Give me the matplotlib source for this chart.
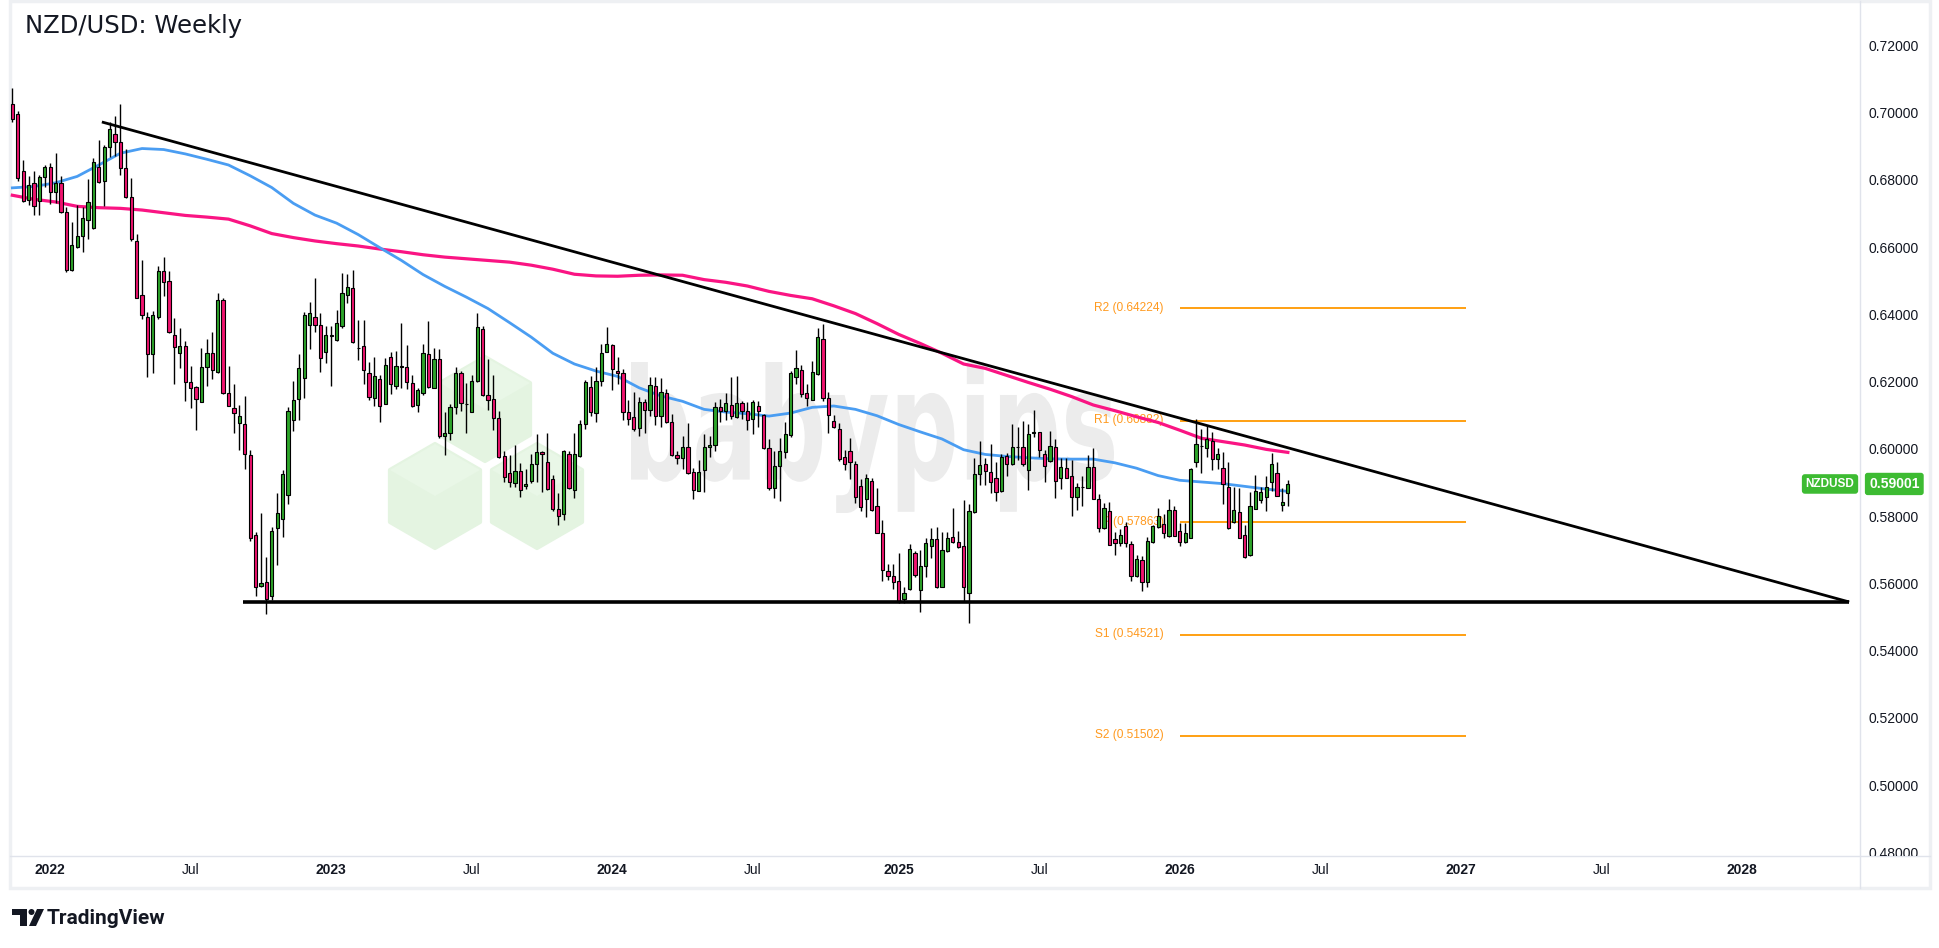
import matplotlib
matplotlib.use("Agg")
import matplotlib.pyplot as plt
import matplotlib.dates as mdates
import matplotlib.transforms as mtransforms
from matplotlib.patches import Polygon, PathPatch, Rectangle, Circle
from matplotlib.textpath import TextPath
from matplotlib.font_manager import FontProperties
import numpy as np
import pandas as pd

# ---------------------------------------------------------------- data
title = "NZD/USD: Weekly"
symbol = "NZDUSD"
last_price = 0.59001
first_week = "2021-11-15"

opens = [0.7030, 0.7000, 0.6830, 0.6744, 0.6794, 0.6741, 0.6813, 0.6842, 0.6769, 0.6795,
         0.6708, 0.6536, 0.6606, 0.6638, 0.6685, 0.6662, 0.6843, 0.6800, 0.6902, 0.6941,
         0.6916, 0.6841, 0.6754, 0.6622, 0.6461, 0.6397, 0.6286, 0.6398, 0.6533, 0.6503,
         0.6343, 0.6291, 0.6310, 0.6203, 0.6188, 0.6145, 0.6247, 0.6289, 0.6233, 0.6446,
         0.6172, 0.6127, 0.6080, 0.6079, 0.5986, 0.5748, 0.5597, 0.5608, 0.5568, 0.5768,
         0.5796, 0.5866, 0.6089, 0.6153, 0.6215, 0.6372, 0.6397, 0.6373, 0.6292, 0.6340,
         0.6327, 0.6371, 0.6461, 0.6484, 0.6306, 0.6310, 0.6230, 0.6155, 0.6213, 0.6139,
         0.6279, 0.6193, 0.6248, 0.6249, 0.6201, 0.6136, 0.6170, 0.6286, 0.6187, 0.6272,
         0.6044, 0.6053, 0.6129, 0.6231, 0.6137, 0.6114, 0.6207, 0.6361, 0.6164, 0.6152,
         0.6097, 0.5984, 0.5933, 0.5904, 0.5939, 0.5895, 0.5910, 0.5960, 0.5994, 0.5965,
         0.5915, 0.5825, 0.5810, 0.5989, 0.5882, 0.5984, 0.6077, 0.6188, 0.6111, 0.6206,
         0.6292, 0.6313, 0.6236, 0.6231, 0.6114, 0.6099, 0.6067, 0.6144, 0.6119, 0.6191,
         0.6103, 0.6170, 0.6084, 0.5986, 0.5976, 0.6010, 0.5936, 0.5880, 0.5942, 0.6010,
         0.6016, 0.6130, 0.6116, 0.6135, 0.6098, 0.6140, 0.6116, 0.6092, 0.6132, 0.6105,
         0.6008, 0.5889, 0.5954, 0.5994, 0.6045, 0.6218, 0.6239, 0.6170, 0.6151, 0.6228,
         0.6332, 0.6155, 0.6087, 0.6063, 0.5979, 0.5997, 0.5958, 0.5895, 0.5854, 0.5909,
         0.5834, 0.5755, 0.5641, 0.5627, 0.5610, 0.5559, 0.5588, 0.5694, 0.5585, 0.5655,
         0.5715, 0.5737, 0.5595, 0.5700, 0.5742, 0.5726, 0.5715, 0.5575, 0.5816, 0.5930,
         0.5958, 0.5937, 0.5917, 0.5880, 0.5983, 0.5958, 0.6009, 0.6010, 0.5941, 0.6052,
         0.6054, 0.5989, 0.5967, 0.6011, 0.5917, 0.5949, 0.5925, 0.5861, 0.5890, 0.5889,
         0.5952, 0.5854, 0.5769, 0.5820, 0.5737, 0.5723, 0.5774, 0.5721, 0.5625, 0.5673,
         0.5609, 0.5726, 0.5772, 0.5781, 0.5744, 0.5824, 0.5760, 0.5726, 0.5739, 0.5965,
         0.6012, 0.6008, 0.6029, 0.5973, 0.5949, 0.5891, 0.5788, 0.5816, 0.5747, 0.5689,
         0.5827, 0.5851, 0.5862, 0.5907, 0.5933, 0.5838, 0.5873]
highs = [0.7079, 0.7009, 0.6863, 0.6817, 0.6830, 0.6820, 0.6850, 0.6854, 0.6886, 0.6815,
         0.6723, 0.6679, 0.6730, 0.6725, 0.6808, 0.6869, 0.6924, 0.6909, 0.6977, 0.6995,
         0.7030, 0.6897, 0.6810, 0.6644, 0.6567, 0.6411, 0.6414, 0.6550, 0.6575, 0.6534,
         0.6393, 0.6364, 0.6325, 0.6251, 0.6193, 0.6305, 0.6330, 0.6351, 0.6469, 0.6454,
         0.6252, 0.6196, 0.6135, 0.6162, 0.6000, 0.5757, 0.5814, 0.5684, 0.5772, 0.5873,
         0.5942, 0.6130, 0.6206, 0.6288, 0.6411, 0.6441, 0.6514, 0.6409, 0.6369, 0.6371,
         0.6417, 0.6527, 0.6525, 0.6536, 0.6388, 0.6388, 0.6262, 0.6279, 0.6223, 0.6274,
         0.6292, 0.6296, 0.6380, 0.6313, 0.6224, 0.6186, 0.6316, 0.6385, 0.6306, 0.6303,
         0.6113, 0.6138, 0.6249, 0.6236, 0.6199, 0.6224, 0.6410, 0.6369, 0.6273, 0.6224,
         0.6116, 0.5997, 0.5986, 0.6016, 0.5962, 0.5946, 0.5989, 0.6048, 0.5997, 0.6053,
         0.5928, 0.5873, 0.6002, 0.5997, 0.6053, 0.6089, 0.6210, 0.6222, 0.6247, 0.6316,
         0.6367, 0.6316, 0.6277, 0.6243, 0.6151, 0.6174, 0.6160, 0.6152, 0.6218, 0.6217,
         0.6215, 0.6182, 0.6109, 0.5997, 0.6042, 0.6082, 0.5949, 0.5970, 0.6050, 0.6044,
         0.6143, 0.6153, 0.6170, 0.6219, 0.6221, 0.6148, 0.6143, 0.6151, 0.6148, 0.6109,
         0.6034, 0.5997, 0.6036, 0.6084, 0.6236, 0.6298, 0.6254, 0.6196, 0.6266, 0.6363,
         0.6376, 0.6173, 0.6104, 0.6082, 0.6002, 0.6036, 0.5969, 0.5915, 0.5930, 0.5917,
         0.5888, 0.5793, 0.5662, 0.5662, 0.5694, 0.5593, 0.5721, 0.5700, 0.5705, 0.5739,
         0.5769, 0.5772, 0.5756, 0.5758, 0.5830, 0.5761, 0.5851, 0.5841, 0.5978, 0.6027,
         0.5976, 0.6020, 0.5965, 0.5989, 0.5992, 0.6079, 0.6069, 0.6087, 0.6077, 0.6119,
         0.6055, 0.6002, 0.6058, 0.6034, 0.5978, 0.5978, 0.5970, 0.5904, 0.5923, 0.5986,
         0.6008, 0.5869, 0.5843, 0.5845, 0.5758, 0.5765, 0.5788, 0.5729, 0.5689, 0.5687,
         0.5742, 0.5779, 0.5830, 0.5811, 0.5856, 0.5834, 0.5784, 0.5784, 0.5949, 0.6093,
         0.6063, 0.6073, 0.6055, 0.6008, 0.5994, 0.5965, 0.5891, 0.5888, 0.5779, 0.5875,
         0.5928, 0.5891, 0.5925, 0.5992, 0.5965, 0.5888, 0.5912]
lows = [0.6978, 0.6802, 0.6739, 0.6730, 0.6701, 0.6701, 0.6783, 0.6733, 0.6735, 0.6707,
        0.6530, 0.6535, 0.6602, 0.6590, 0.6630, 0.6660, 0.6794, 0.6728, 0.6874, 0.6877,
        0.6820, 0.6751, 0.6624, 0.6452, 0.6392, 0.6218, 0.6229, 0.6390, 0.6460, 0.6348,
        0.6196, 0.6244, 0.6148, 0.6125, 0.6062, 0.6144, 0.6191, 0.6212, 0.6231, 0.6167,
        0.6133, 0.6053, 0.6000, 0.5944, 0.5731, 0.5567, 0.5595, 0.5514, 0.5556, 0.5660,
        0.5743, 0.5841, 0.6059, 0.6089, 0.6156, 0.6303, 0.6352, 0.6233, 0.6259, 0.6193,
        0.6326, 0.6364, 0.6438, 0.6320, 0.6268, 0.6196, 0.6151, 0.6133, 0.6085, 0.6137,
        0.6169, 0.6182, 0.6186, 0.6184, 0.6128, 0.6113, 0.6164, 0.6186, 0.6186, 0.6036,
        0.5987, 0.6032, 0.6109, 0.6118, 0.6053, 0.6113, 0.6203, 0.6163, 0.6121, 0.6062,
        0.5977, 0.5905, 0.5891, 0.5890, 0.5862, 0.5885, 0.5904, 0.5907, 0.5875, 0.5882,
        0.5820, 0.5777, 0.5793, 0.5885, 0.5857, 0.5981, 0.6063, 0.6103, 0.6085, 0.6192,
        0.6292, 0.6181, 0.6198, 0.6089, 0.6076, 0.6059, 0.6042, 0.6053, 0.6103, 0.6076,
        0.6071, 0.6080, 0.5983, 0.5958, 0.5944, 0.5930, 0.5854, 0.5880, 0.5877, 0.5981,
        0.5997, 0.6084, 0.6089, 0.6093, 0.6096, 0.6093, 0.6060, 0.6050, 0.6071, 0.6005,
        0.5882, 0.5859, 0.5850, 0.5976, 0.6040, 0.6197, 0.6159, 0.6133, 0.6151, 0.6224,
        0.6147, 0.6053, 0.6066, 0.5969, 0.5941, 0.5915, 0.5843, 0.5820, 0.5801, 0.5820,
        0.5753, 0.5612, 0.5614, 0.5588, 0.5545, 0.5545, 0.5586, 0.5623, 0.5520, 0.5623,
        0.5681, 0.5591, 0.5593, 0.5697, 0.5724, 0.5710, 0.5551, 0.5487, 0.5814, 0.5898,
        0.5896, 0.5872, 0.5848, 0.5875, 0.5925, 0.5957, 0.5970, 0.5955, 0.5883, 0.6040,
        0.5979, 0.5907, 0.5965, 0.5859, 0.5885, 0.5917, 0.5804, 0.5822, 0.5836, 0.5888,
        0.5854, 0.5758, 0.5765, 0.5718, 0.5689, 0.5715, 0.5712, 0.5611, 0.5623, 0.5581,
        0.5595, 0.5724, 0.5770, 0.5739, 0.5742, 0.5744, 0.5715, 0.5724, 0.5739, 0.5951,
        0.5933, 0.5981, 0.5941, 0.5944, 0.5840, 0.5767, 0.5784, 0.5740, 0.5681, 0.5686,
        0.5825, 0.5843, 0.5819, 0.5880, 0.5864, 0.5819, 0.5834]
closes = [0.6985, 0.6809, 0.6741, 0.6788, 0.6727, 0.6812, 0.6842, 0.6769, 0.6795, 0.6709,
          0.6536, 0.6610, 0.6638, 0.6691, 0.6738, 0.6857, 0.6799, 0.6902, 0.6955, 0.6916,
          0.6841, 0.6754, 0.6630, 0.6453, 0.6403, 0.6286, 0.6402, 0.6533, 0.6502, 0.6351,
          0.6309, 0.6310, 0.6202, 0.6187, 0.6154, 0.6248, 0.6289, 0.6238, 0.6446, 0.6171,
          0.6133, 0.6111, 0.6103, 0.5989, 0.5738, 0.5595, 0.5604, 0.5559, 0.5759, 0.5814,
          0.5930, 0.6116, 0.6149, 0.6246, 0.6403, 0.6408, 0.6374, 0.6274, 0.6343, 0.6342,
          0.6378, 0.6468, 0.6486, 0.6321, 0.6304, 0.6238, 0.6160, 0.6221, 0.6131, 0.6255,
          0.6196, 0.6252, 0.6250, 0.6204, 0.6132, 0.6180, 0.6291, 0.6188, 0.6271, 0.6042,
          0.6053, 0.6129, 0.6231, 0.6140, 0.6139, 0.6206, 0.6367, 0.6164, 0.6151, 0.6096,
          0.5981, 0.5920, 0.5905, 0.5939, 0.5882, 0.5900, 0.5960, 0.5994, 0.5989, 0.5884,
          0.5827, 0.5804, 0.5997, 0.5888, 0.5989, 0.6078, 0.6204, 0.6114, 0.6206, 0.6291,
          0.6316, 0.6241, 0.6229, 0.6114, 0.6092, 0.6063, 0.6144, 0.6119, 0.6194, 0.6101,
          0.6175, 0.6084, 0.5985, 0.5976, 0.6010, 0.5933, 0.5882, 0.5936, 0.6010, 0.6015,
          0.6130, 0.6116, 0.6140, 0.6101, 0.6140, 0.6116, 0.6089, 0.6143, 0.6116, 0.6008,
          0.5888, 0.5954, 0.5997, 0.6048, 0.6231, 0.6246, 0.6169, 0.6155, 0.6233, 0.6337,
          0.6155, 0.6105, 0.6069, 0.5973, 0.5960, 0.5965, 0.5861, 0.5832, 0.5917, 0.5824,
          0.5755, 0.5644, 0.5625, 0.5607, 0.5549, 0.5575, 0.5707, 0.5628, 0.5655, 0.5724,
          0.5735, 0.5595, 0.5705, 0.5740, 0.5726, 0.5712, 0.5593, 0.5819, 0.5930, 0.5957,
          0.5939, 0.5907, 0.5877, 0.5981, 0.5958, 0.6010, 0.6011, 0.5958, 0.6050, 0.6054,
          0.6002, 0.5954, 0.6013, 0.5910, 0.5951, 0.5919, 0.5861, 0.5891, 0.5892, 0.5952,
          0.5856, 0.5769, 0.5829, 0.5719, 0.5724, 0.5747, 0.5723, 0.5625, 0.5678, 0.5609,
          0.5729, 0.5774, 0.5804, 0.5755, 0.5824, 0.5745, 0.5728, 0.5753, 0.5944, 0.6018,
          0.6013, 0.6034, 0.5973, 0.5990, 0.5899, 0.5769, 0.5824, 0.5740, 0.5684, 0.5834,
          0.5878, 0.5875, 0.5891, 0.5960, 0.5864, 0.5846, 0.5900]

# moving averages, read every 4th week
ma_step = 4
ma_blue = [0.6781, 0.6785, 0.6796, 0.6815, 0.6849, 0.6884, 0.6898, 0.6895, 0.6882, 0.6866,
           0.6849, 0.6817, 0.6782, 0.6735, 0.6700, 0.6676, 0.6642, 0.6603, 0.6565, 0.6523,
           0.6488, 0.6456, 0.6422, 0.6380, 0.6337, 0.6289, 0.6257, 0.6236, 0.6220, 0.6186,
           0.6162, 0.6146, 0.6122, 0.6114, 0.6109, 0.6102, 0.6111, 0.6128, 0.6132, 0.6122,
           0.6103, 0.6077, 0.6055, 0.6034, 0.6002, 0.5988, 0.5982, 0.5978, 0.5975, 0.5974,
           0.5974, 0.5963, 0.5947, 0.5925, 0.5911, 0.5906, 0.5901, 0.5893, 0.5885, 0.5878]
ma_pink = [0.6759, 0.6747, 0.6739, 0.6726, 0.6722, 0.6720, 0.6715, 0.6707, 0.6699, 0.6694,
           0.6688, 0.6668, 0.6645, 0.6633, 0.6623, 0.6615, 0.6608, 0.6599, 0.6591, 0.6582,
           0.6575, 0.6570, 0.6565, 0.6560, 0.6551, 0.6539, 0.6524, 0.6519, 0.6518, 0.6521,
           0.6522, 0.6521, 0.6508, 0.6500, 0.6489, 0.6473, 0.6461, 0.6451, 0.6430, 0.6407,
           0.6377, 0.6345, 0.6318, 0.6289, 0.6257, 0.6244, 0.6223, 0.6202, 0.6182, 0.6160,
           0.6135, 0.6118, 0.6100, 0.6083, 0.6060, 0.6036, 0.6026, 0.6016, 0.6003, 0.5994]

pivot_names = ["R2", "R1", "P", "S1", "S2"]
pivot_values = [0.64224, 0.60882, 0.57863, 0.54521, 0.51502]
pivot_from, pivot_to = "2026-01-05", "2027-01-11"

trend_dates = ["2022-03-11", "2028-05-21"]
trend_prices = [0.6977, 0.5549]
support_dates = ["2022-09-10", "2028-05-21"]
support_prices = [0.5549, 0.5549]

price_ticks = [0.72, 0.70, 0.68, 0.66, 0.64, 0.62, 0.60, 0.58, 0.56, 0.54, 0.52, 0.50, 0.48]
time_ticks = [("2022-01-03", "2022"), ("2022-07-04", "Jul"), ("2023-01-02", "2023"),
              ("2023-07-03", "Jul"), ("2024-01-01", "2024"), ("2024-07-01", "Jul"),
              ("2025-01-06", "2025"), ("2025-07-07", "Jul"), ("2026-01-05", "2026"),
              ("2026-07-06", "Jul"), ("2027-01-04", "2027"), ("2027-07-05", "Jul"),
              ("2028-01-03", "2028")]
x_range = ("2021-11-12", "2028-06-04")
y_range = (0.47933, 0.73339)

# ---------------------------------------------------------------- styles
GREEN = "#2DA52A"
PINK = "#F0146F"
BLUE = "#4A9DF2"
MAGENTA = "#FA1483"
ORANGE = "#FF9800"
TEXT = "#131722"
GRID = "#E0E3EB"

W, H = 1940, 948
fig = plt.figure(figsize=(W / 100, H / 100), dpi=100)
fig.patch.set_facecolor("white")


def px_rect(x0, y0, x1, y1):
    return [x0 / W, 1 - y1 / H, (x1 - x0) / W, (y1 - y0) / H]


# background canvas in pixel units
bg = fig.add_axes([0, 0, 1, 1])
bg.set_xlim(0, W)
bg.set_ylim(H, 0)
bg.axis("off")
bg.set_zorder(0)

# pane frame and separators
bg.add_patch(Rectangle((10, 1), 1920, 887, fill=False, ec="#EEF0F3", lw=2.5))
bg.plot([1860, 1860], [1, 888], color=GRID, lw=1)
bg.plot([10, 1930], [856, 856], color=GRID, lw=1)

# watermark: three cubes
def cube(cx, cy, R):
    c = 0.866 * R
    top = (cx, cy - R)
    ur = (cx + c, cy - R / 2)
    lr = (cx + c, cy + R / 2)
    bot = (cx, cy + R)
    ll = (cx - c, cy + R / 2)
    ul = (cx - c, cy - R / 2)
    ctr = (cx, cy)
    bg.add_patch(Polygon([top, ur, lr, bot, ll, ul], closed=True, fc="#E4F4E1",
                         ec="#E4F4E1", lw=3, joinstyle="round", zorder=1))
    bg.add_patch(Polygon([top, ur, ctr, ul], closed=True, fc="#E9F7E7",
                         ec="none", zorder=1.1))

cube(485, 409, 52)
cube(435, 496, 52)
cube(537, 496, 52)

# watermark: word
fp = FontProperties(family="DejaVu Sans", weight="bold")
tp = TextPath((0, 0), "babypips", size=100, prop=fp)
ext = tp.get_extents()
sx = (1114 - 631) / ext.width
sy = (513 - 362) / ext.height
tr = (mtransforms.Affine2D().translate(-ext.x0, -ext.y0).scale(sx, -sy)
      .translate(631, 513) + bg.transData)
bg.add_patch(PathPatch(tp, transform=tr, fc="#ECECEC", ec="none", zorder=1))

# title
bg.text(25, 33, title, fontsize=17.5, family="DejaVu Sans", color=TEXT, va="baseline")

# TradingView logo
bg.add_patch(Polygon([(12, 909), (27, 909), (27, 926), (20, 926), (20, 915), (12, 915)],
                     closed=True, fc=TEXT, ec="none"))
bg.add_patch(Circle((31.5, 912), 3, fc=TEXT, ec="none"))
bg.add_patch(Polygon([(37, 909), (44, 909), (36, 926), (29, 926)], closed=True, fc=TEXT, ec="none"))
bg.text(47, 918, "TradingView", fontsize=15, family="Roboto", weight="bold",
        color=TEXT, va="center", ha="left")

# ---------------------------------------------------------------- main chart
ax = fig.add_axes(px_rect(10, 2, 1860, 856))
ax.set_zorder(2)
ax.patch.set_alpha(0)
ax.set_xlim(mdates.date2num(pd.Timestamp(x_range[0])), mdates.date2num(pd.Timestamp(x_range[1])))
ax.set_ylim(*y_range)
ax.axis("off")

dates = pd.date_range(first_week, periods=len(opens), freq="7D")
x = mdates.date2num(dates)
o = np.array(opens)
c = np.array(closes)
hi = np.array(highs)
lo = np.array(lows)
up = c >= o

# pivots (under candles)
p0 = mdates.date2num(pd.Timestamp(pivot_from))
p1 = mdates.date2num(pd.Timestamp(pivot_to))
for name, val in zip(pivot_names, pivot_values):
    ax.plot([p0, p1], [val, val], color=ORANGE, lw=1.3, zorder=2, solid_capstyle="butt")
    ax.annotate(f"{name} ({val:.5f})", xy=(p0, val), xytext=(-11.5, 0.5),
                textcoords="offset points", ha="right", va="center", color="#FF9A1F",
                fontsize=8.6, family="Liberation Sans", zorder=2)

# moving averages
mx = x[::ma_step][:len(ma_blue)]
ax.plot(mx, ma_pink, color=MAGENTA, lw=2.3, zorder=3, solid_joinstyle="round")
ax.plot(mx, ma_blue, color=BLUE, lw=2.0, zorder=3, solid_joinstyle="round")

# candles
ax.vlines(x, lo, hi, color="black", lw=1.0, zorder=4)
body_lo = np.minimum(o, c)
body_h = np.maximum(np.abs(c - o), 0.00012)
ax.bar(x, body_h, bottom=body_lo, width=4.2, color=np.where(up, GREEN, PINK),
       edgecolor="black", linewidth=0.8, zorder=5)

# triangle
td = mdates.date2num(pd.to_datetime(trend_dates))
sd = mdates.date2num(pd.to_datetime(support_dates))
ax.plot(td, trend_prices, color="black", lw=2.0, zorder=6, solid_capstyle="butt")
ax.plot(sd, support_prices, color="black", lw=2.6, zorder=6, solid_capstyle="butt")

# symbol tag
ax.text(0.9838, last_price, symbol, transform=mtransforms.blended_transform_factory(ax.transAxes, ax.transData),
        ha="center", va="center", color="white", fontsize=8.5, weight="bold",
        family="Liberation Sans", zorder=8,
        bbox=dict(boxstyle="round,pad=0.32,rounding_size=0.25", fc="#3DBB32", ec="none"))

# time axis labels
tt = mtransforms.blended_transform_factory(ax.transData, bg.transData)
for d, lab in time_ticks:
    ax.text(mdates.date2num(pd.Timestamp(d)), 870, lab, transform=tt, ha="center", va="center",
            fontsize=10, family="Liberation Sans", color=TEXT,
            weight="bold" if lab != "Jul" else "normal", clip_on=False)

# ---------------------------------------------------------------- price scale
pax = fig.add_axes(px_rect(1860, 2, 1930, 856))
pax.set_zorder(3)
pax.patch.set_alpha(0)
pax.set_xlim(0, 1)
pax.set_ylim(*y_range)
pax.axis("off")
for p in price_ticks:
    pax.text(0.115, p, f"{p:.5f}", ha="left", va="center", fontsize=10,
             family="Liberation Sans", color=TEXT, clip_on=True)
pax.text(0.49, last_price, f"{last_price:.5f}", ha="center", va="center", color="white",
         fontsize=10, weight="bold", family="Liberation Sans", zorder=8,
         bbox=dict(boxstyle="round,pad=0.3,rounding_size=0.2", fc="#3DBB32", ec="none"))

fig.savefig("out.png", dpi=100, facecolor="white")
